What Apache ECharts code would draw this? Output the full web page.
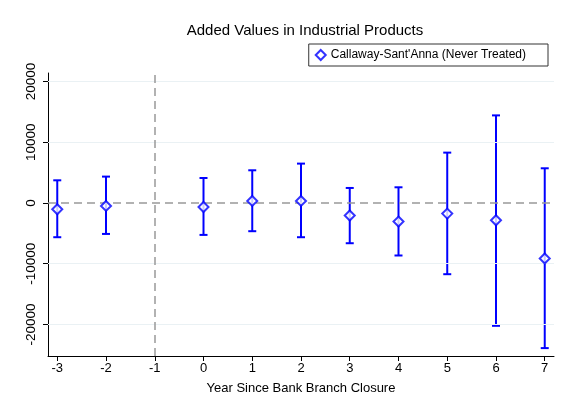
<!DOCTYPE html>
<html><head><meta charset="utf-8">
<script src="https://cdn.jsdelivr.net/npm/echarts@6/dist/echarts.min.js"></script>
<style>html,body{margin:0;padding:0;background:#fff}#c{width:561px;height:410px}</style>
</head><body><div id="c"></div>
<script>
const years = [-3, -2, 0, 1, 2, 3, 4, 5, 6, 7];
const estimates = [-1040, -490, -660, 330, 330, -2070, -3060, -1750, -2850, -9150];
const upper = [3730, 4340, 4110, 5380, 6480, 2470, 2580, 8290, 14420, 5710];
const lower = [-5640, -5100, -5260, -4650, -5640, -6630, -8650, -11730, -20230, -23900];
const xTicks = [-3, -2, -1, 0, 1, 2, 3, 4, 5, 6, 7];
const yTicks = [-20000, -10000, 0, 10000, 20000];
const seriesName = "Callaway-Sant'Anna (Never Treated)";

const blue = '#0000ff';
const font = 'Liberation Sans, Arial, Helvetica, sans-serif';
const chart = echarts.init(document.getElementById('c'));
const ciData = years.map((y, i) => [y, lower[i], upper[i]]);

chart.setOption({
  animation: false,
  backgroundColor: '#fff',
  title: {
    text: 'Added Values in Industrial Products',
    left: 300, textAlign: 'center', top: 18,
    textStyle: { fontFamily: font, fontSize: 15, fontWeight: 'normal', color: '#000' }
  },
  legend: {
    data: [seriesName],
    right: 13, top: 44,
    borderColor: '#333', borderWidth: 1, borderRadius: 0,
    padding: [5, 22, 5, 6],
    itemWidth: 10, itemHeight: 10, itemGap: 6,
    textStyle: { fontFamily: font, fontSize: 12, color: '#000' }
  },
  grid: { left: 48, right: 7, top: 73, bottom: 54 },
  xAxis: {
    type: 'value', min: -3.19, max: 7.19,
    name: 'Year Since Bank Branch Closure', nameLocation: 'middle', nameGap: 26,
    nameTextStyle: { fontFamily: font, fontSize: 13, color: '#000' },
    axisLine: { onZero: false, lineStyle: { color: '#000', width: 1 } },
    axisTick: { customValues: xTicks, length: 5, lineStyle: { color: '#000' } },
    axisLabel: { customValues: xTicks, fontFamily: font, fontSize: 13, color: '#000', margin: 6 },
    splitLine: { show: false }
  },
  yAxis: {
    type: 'value', min: -25200, max: 21400,
    axisLine: { show: true, onZero: false, lineStyle: { color: '#000', width: 1 } },
    axisTick: { show: true, customValues: yTicks, length: 5, lineStyle: { color: '#000' } },
    axisLabel: { customValues: yTicks, rotate: 90, fontFamily: font, fontSize: 13.5, color: '#000', margin: 10,
      formatter: v => String(v) },
    splitLine: { show: false }
  },
  series: [
    {
      type: 'line', data: [], silent: true,
      markLine: {
        silent: true, symbol: 'none', label: { show: false },
        lineStyle: { color: '#eaf1f4', width: 1, type: 'solid' },
        data: yTicks.filter(v => v !== 0).map(v => ({ yAxis: v }))
      }
    },
    {
      type: 'line', data: [], silent: true,
      markLine: {
        silent: true, symbol: 'none', label: { show: false },
        lineStyle: { color: '#999', width: 1.5, type: [8, 5] },
        data: [{ yAxis: 0 }, { xAxis: -1 }]
      }
    },
    {
      type: 'custom', name: 'ci', silent: true,
      data: ciData,
      renderItem: function (params, api) {
        const x = api.value(0);
        const lo = api.coord([x, api.value(1)]);
        const hi = api.coord([x, api.value(2)]);
        const hw = 4;
        const st = { stroke: blue, lineWidth: 2 };
        return {
          type: 'group',
          children: [
            { type: 'line', shape: { x1: lo[0], y1: lo[1], x2: hi[0], y2: hi[1] }, style: st },
            { type: 'line', shape: { x1: lo[0] - hw, y1: lo[1], x2: lo[0] + hw, y2: lo[1] }, style: st },
            { type: 'line', shape: { x1: hi[0] - hw, y1: hi[1], x2: hi[0] + hw, y2: hi[1] }, style: st }
          ]
        };
      },
      encode: { x: 0, y: [1, 2] }
    },
    {
      type: 'scatter', name: seriesName,
      data: years.map((y, i) => [y, estimates[i]]),
      symbol: 'diamond', symbolSize: [10, 10],
      itemStyle: { color: '#fff', borderColor: blue, borderWidth: 2 },
      z: 5
    }
  ]
});
</script></body></html>
